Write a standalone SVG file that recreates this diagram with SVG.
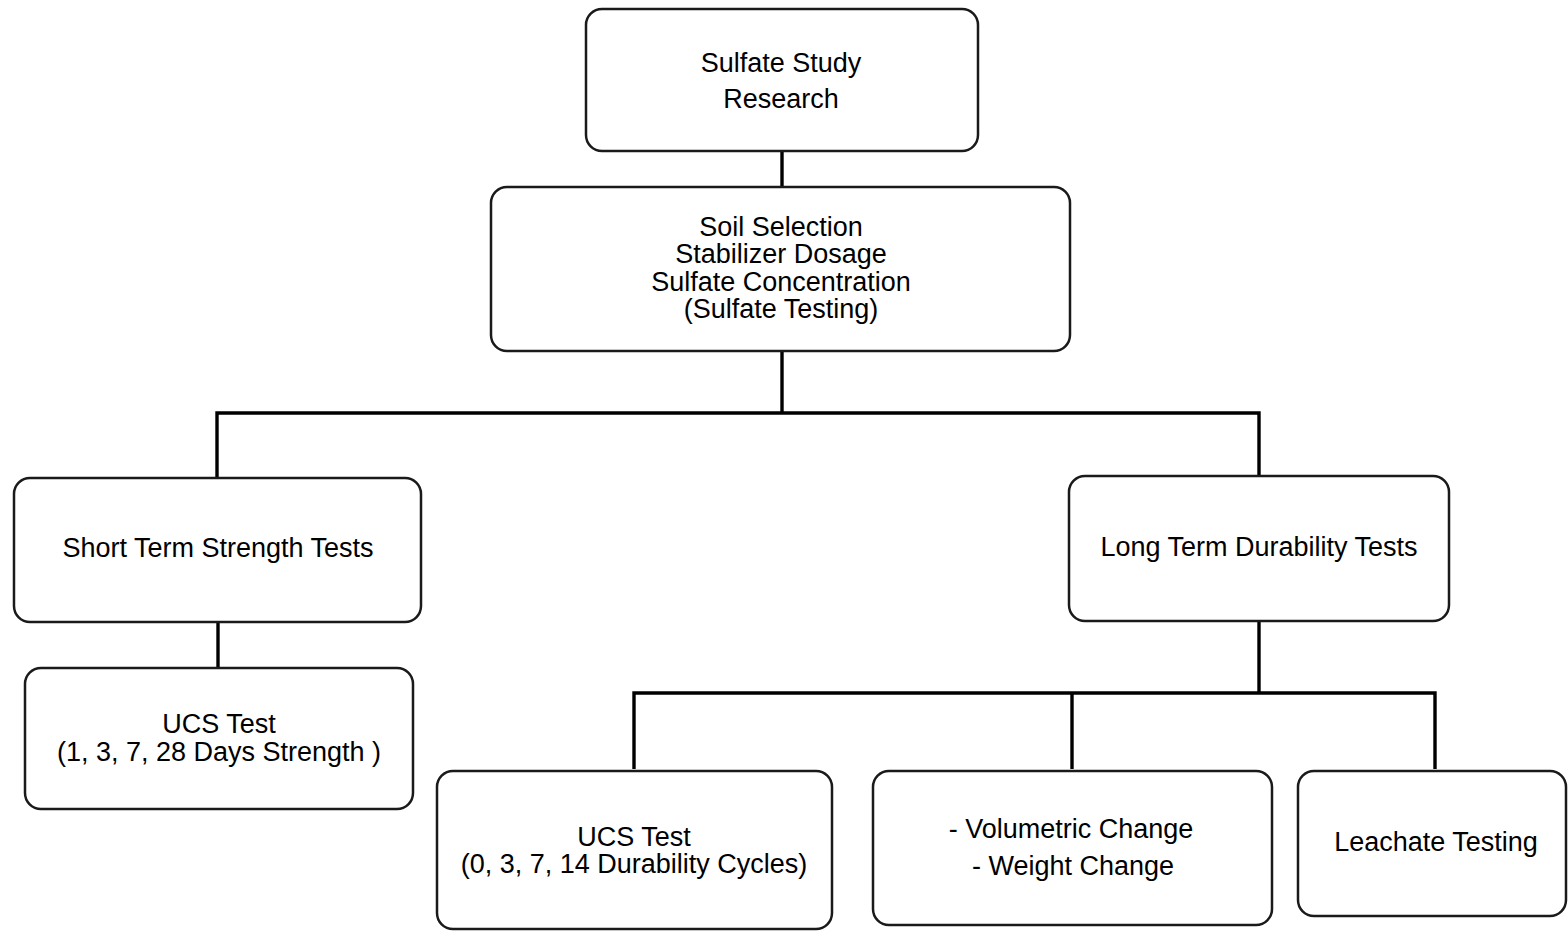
<svg xmlns="http://www.w3.org/2000/svg" width="1568" height="931" viewBox="0 0 1568 931">
  <style>
    .box { fill: #ffffff; stroke: #1a1a1a; stroke-width: 2.5; }
    .lbl { font-family: "Liberation Sans", Arial, sans-serif; font-size: 27px; fill: #000000; text-anchor: middle; }
    .wire { fill: none; stroke: #000000; stroke-width: 3.4; }
  </style>
  <rect width="1568" height="931" fill="#ffffff"/>

  <!-- tree connectors -->
  <g id="connectors">
    <path class="wire" d="M782 151 V187"/>
    <path class="wire" d="M782 351 V413"/>
    <path class="wire" d="M217 478 V413 H1259 V476"/>
    <path class="wire" d="M218 622 V668"/>
    <path class="wire" d="M1259 621 V693"/>
    <path class="wire" d="M634 769 V693 H1435 V769"/>
    <path class="wire" d="M1072 693 V769"/>
  </g>

  <g id="sulfate-study">
    <rect class="box" x="586" y="9" width="392" height="142" rx="16"/>
    <text class="lbl" x="781" y="72">Sulfate Study</text>
    <text class="lbl" x="781" y="108">Research</text>
  </g>

  <g id="soil-selection">
    <rect class="box" x="491" y="187" width="579" height="164" rx="16"/>
    <text class="lbl" x="781" y="236">Soil Selection</text>
    <text class="lbl" x="781" y="263">Stabilizer Dosage</text>
    <text class="lbl" x="781" y="291">Sulfate Concentration</text>
    <text class="lbl" x="781" y="318">(Sulfate Testing)</text>
  </g>

  <g id="short-term">
    <rect class="box" x="14" y="478" width="407" height="144" rx="16"/>
    <text class="lbl" x="218" y="557">Short Term Strength Tests</text>
  </g>

  <g id="ucs-days">
    <rect class="box" x="25" y="668" width="388" height="141" rx="16"/>
    <text class="lbl" x="219" y="733">UCS Test</text>
    <text class="lbl" x="219" y="761">(1, 3, 7, 28 Days Strength )</text>
  </g>

  <g id="long-term">
    <rect class="box" x="1069" y="476" width="380" height="145" rx="16"/>
    <text class="lbl" x="1259" y="556">Long Term Durability Tests</text>
  </g>

  <g id="ucs-cycles">
    <rect class="box" x="437" y="771" width="395" height="158" rx="16"/>
    <text class="lbl" x="634" y="846">UCS Test</text>
    <text class="lbl" x="634" y="873">(0, 3, 7, 14 Durability Cycles)</text>
  </g>

  <g id="volume-weight">
    <rect class="box" x="873" y="771" width="399" height="154" rx="16"/>
    <text class="lbl" x="1071" y="838">- Volumetric Change</text>
    <text class="lbl" x="1073" y="875">- Weight Change</text>
  </g>

  <g id="leachate">
    <rect class="box" x="1298" y="771" width="268" height="145" rx="16"/>
    <text class="lbl" x="1436" y="851">Leachate Testing</text>
  </g>
</svg>
